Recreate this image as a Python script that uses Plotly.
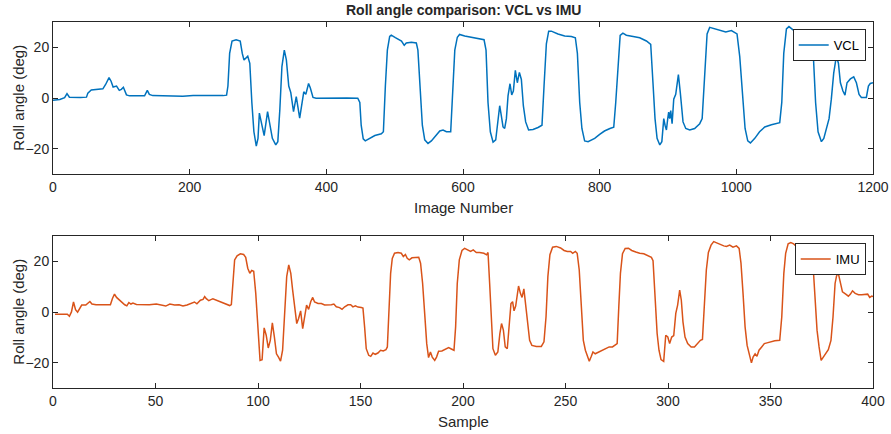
import plotly.graph_objects as go

# Roll angle estimated from the camera (VCL), indexed by image number
vcl_image = [0, 10, 17, 20.5, 24, 29, 40, 49, 51, 56, 63, 73, 77, 82, 85, 88, 93, 97, 100, 103,
             107.5, 112, 125, 134, 138, 141, 146, 160, 175, 190, 205, 220, 235, 249, 254, 256,
             258.5, 262, 268, 274, 277, 279.5, 285, 288, 291, 294, 297.5, 300, 302, 306, 309,
             314, 317, 321, 326, 329, 332, 335, 338.5, 341.5, 345, 348, 352, 356, 361, 364, 367,
             370, 374, 376.5, 380.5, 385, 400, 415, 430, 446,
             449, 451, 454, 457, 463, 471, 480.5, 483.5, 486.4, 489.3, 492.7, 495, 501, 510, 514,
             517, 524.4, 531.7, 534, 537.6, 540.5, 544, 548.8, 553.7, 558.6, 566, 570.8, 575.7,
             582, 585, 588, 591.7, 595, 602.5, 617, 630.8, 633.7, 636.6, 640, 644, 647.9, 650.3,
             653.7, 656, 658.6, 661, 663.5, 665.9, 668.8, 671.3, 673.7, 676.6, 679.5, 682.5,
             685.4, 688.3, 691.7, 696, 702.5, 709.8, 715.6, 718.6, 722, 725.4, 729.3, 739, 748.8,
             758.6, 764.4, 767.4, 770.8, 774, 778, 783, 792.7, 800, 807, 815, 820.6, 823.5, 827,
             830, 834, 839, 849, 858.6, 868.4, 874.7, 878, 881, 884, 888, 891, 893.8, 895.7,
             897.7, 899.6, 901, 902.5, 904, 906, 908.4, 911.3, 915.2, 918, 922, 926, 931.8, 939,
             946.4, 950, 953.8, 957.2, 961, 968.4, 975.7, 984.5, 992.8, 1001, 1005, 1009, 1012.8,
             1016.7, 1020.6, 1027, 1034, 1041.6, 1051.3, 1063.5, 1066.5, 1069.4, 1073.3, 1077,
             1083, 1092.8, 1102.5, 1107.4, 1110.8, 1113, 1116, 1119.6, 1124.5, 1128, 1131.8,
             1135.7, 1139, 1142.5, 1146.4, 1149.4, 1152.3, 1156, 1159, 1162, 1166.9, 1171.8,
             1175.7, 1179.6, 1183, 1190.3, 1193.3, 1196, 1200]
vcl_roll = [-0.8, -0.5, 0.2, 1.8, 0.4, 0.3, 0.3, 0.4, 2.0, 3.2, 3.5, 3.7, 5.4, 8.1, 6.7, 4.4, 4.8,
            3.1, 3.5, 4.3, 1.3, 0.9, 0.9, 0.9, 3.1, 1.5, 1.0, 0.9, 1.0, 0.8, 1.0, 0.9, 1.0, 1.0,
            1.2, 4.8, 17.7, 22.6, 23.1, 22.6, 17.7, 15.1, 16.6, 13.8, -1.7, -13.3, -19.0, -15.9,
            -5.9, -11.4, -14.8, -5.3, -9.4, -15.9, -18.5, -17.2, -4.3, 12.5, 19.0, 15.1, 4.8, 2.2,
            -5.3, 0.6, -7.9, -2.3, 2.5, 1.5, 5.8, 4.1, 0.3, 0.0, 0.1, 0.0, 0.1, 0.0,
            -1.7, -10.7, -16.1, -16.9, -15.9, -14.8, -14.1, -13.3, 4.8, 19.0, 24.4, 24.9, 23.9,
            22.6, 20.9, 21.8, 22.1, 21.8, 19.0, 4.8, -10.7, -16.5, -17.9, -16.9, -15.2, -13.0,
            -12.6, -13.3, -13.3, 2.2, 19.0, 24.1, 25.2, 24.6, 23.9, 23.1, 19.0, -1.7, -13.3,
            -17.4, -16.5, -10.7, -3.0, -6.8, -11.4, -12.0, -8.1, 0.9, 5.7, 1.3, 2.8, 11.0, 6.1,
            10.2, 7.4, -3.0, -9.4, -12.6, -12.4, -11.6, -10.7, 4.8, 21.5, 26.5, 26.5, 25.4, 24.6,
            24.4, 23.9, 17.7, -1.7, -12.0, -16.9, -17.2, -15.9, -14.3, -13.0, -12.0, -11.5, -1.7,
            15.1, 24.8, 25.7, 24.9, 24.4, 23.9, 22.6, 21.3, 6.1, -8.1, -15.9, -18.5, -17.2, -8.1,
            -10.7, -12.6, -8.1, -5.5, -8.1, -4.9, -10.1, -0.4, 1.5, 9.3, 2.2, -9.4, -12.0, -12.6,
            -12.0, -10.1, -8.1, 11.2, 25.4, 28.0, 27.5, 27.0, 26.2, 26.7, 25.4, 16.4, 0.9, -12.0,
            -16.9, -17.7, -15.9, -13.3, -11.4, -10.5, -9.7, -1.7, 17.7, 27.4, 28.3, 27.0, 25.4,
            24.4, 23.5, 23.9, 15.1, -1.7, -13.3, -17.2, -15.9, -12.0, -8.1, -0.4, 9.9, 16.6, 13.8,
            6.1, 2.8, 1.2, 6.1, 7.6, 8.4, 6.1, 1.5, 0.3, 0.3, 4.8, 5.8, 6.1]

# Roll angle from the inertial unit (IMU), indexed by sample
imu_sample = [1, 7, 8, 9, 10, 11, 12, 13, 14, 16, 18, 19, 21, 24, 28, 29, 30, 31, 32.5, 34, 35,
              36, 37, 38, 39, 40.7, 44, 47, 50.4, 52.8, 55, 57, 59.3, 61.5, 63.4, 65.4, 67.5, 69,
              70.2, 71.9, 73.2, 74, 74.8, 76, 78, 79.7, 81.6, 83.7, 86.2, 87, 87.8, 88.6, 89.8,
              91.4, 93, 94, 95, 96, 96.9, 97.9, 98.9, 100, 101, 102, 103, 104, 105, 106, 107, 108,
              109, 110, 111, 112, 113, 114, 115, 116, 116.9, 117.9, 118.9, 119.8, 120.8, 121.8,
              122.8, 123.7, 124.7, 125.7, 126.7, 127.6, 129.3, 130.9, 132.5, 134.1, 135.8, 137,
              138.2, 139.8, 141, 142.3, 143.9, 145.2, 146.3, 147.5, 148.8, 150.4, 151.2, 152,
              152.8, 154, 155, 156.1, 157.2, 158.5, 159.8, 161.1, 162.4, 163.1, 163.9, 164.7,
              165.5, 166.6, 168.3, 169.9, 170.9, 171.9, 172.8, 173.8, 175.1, 176.7, 178.4, 179.3,
              180.3, 181.3, 182.3, 183.2, 184.1, 185, 186.2, 187.1, 188.1, 189.7, 191.4, 193,
              194.3, 195.6, 196.4, 197.2, 198.2, 199.5, 200.8, 202.4, 203.7, 205, 206.5, 208.1,
              210.2, 211.5, 212.2, 213, 213.8, 214.6, 215.8, 217, 218, 218.8, 219.7, 220.6, 221.6,
              222.6, 223.4, 224.2, 224.9, 225.7, 226.5, 227.1, 228, 228.8, 229.7, 230.5, 231.4,
              232.5, 233.6, 235.8, 238.2, 239.5, 240.5, 241.4, 242.4, 243.7, 245.5, 247.6, 249.3,
              250.9, 252.5, 253.5, 254.8, 255.7, 256.7, 257.7, 258.7, 259.7, 260.6, 261.6, 262.6,
              263.4, 264.5, 266.2, 268.3, 270, 271.3, 272.9, 274, 275.2, 276, 276.8, 277.8, 279.1,
              280.7, 282.3, 284.3, 286.2, 288.2, 290.3, 291.9, 292.7, 293.7, 294.7, 295.6, 296.6,
              297.9, 298.9, 299.9, 300.8, 301.8, 302.8, 303.8, 304.7, 305.7, 306.5, 307.3, 308.3,
              309.6, 311.3, 312.9, 314.5, 315.8, 316.8, 317.8, 318.7, 319.7, 321, 322.3, 324,
              325.6, 327.2, 328.5, 330.1, 331.7, 333.4, 334.7, 335.6, 336.6, 337.6, 338.6, 339.5,
              340.7, 341.5, 342.5, 343.4, 344.4, 345.7, 347, 348.3, 350, 352.1, 354.5, 355.5,
              356.5, 357.4, 358.6, 359.9, 361.3, 362.6, 363.8, 364.7, 365.9, 367.2, 368.2, 369.1,
              370.1, 370.8, 371.7, 372.7, 373.7, 374.7, 375.6, 376.9, 378.2, 379.5, 380.5, 381.5,
              382.2, 383, 383.8, 385.1, 386.7, 388, 389, 390, 391.3, 392.9, 394.5, 396.1, 397.4,
              398.4, 399.4, 400]
imu_roll = [-0.8, -0.8, -1.6, 0.1, 4.0, 1.0, 0.0, 1.5, 2.8, 2.8, 4.2, 3.2, 2.9, 2.9, 2.9, 5.4,
            7.1, 5.8, 4.7, 3.4, 2.9, 2.5, 3.8, 3.2, 3.6, 3.0, 2.8, 2.9, 3.2, 2.9, 2.4, 3.2, 2.8,
            2.9, 2.4, 2.8, 3.6, 4.0, 3.3, 4.7, 5.0, 6.1, 5.3, 4.5, 5.3, 4.7, 4.0, 3.2, 2.6, 3.0,
            11.3, 20.6, 22.2, 23.0, 22.7, 21.6, 17.3, 15.3, 16.4, 16.1, 7.4, -5.8, -19.0, -18.7,
            -6.2, -9.1, -14.1, -11.1, -4.2, -9.8, -16.4, -17.7, -19.3, -15.0, 0.8, 14.0, 18.6,
            15.3, 8.7, 2.1, -4.5, -2.5, 0.5, -6.5, -0.5, 2.8, 1.1, 4.1, 5.8, 4.0, 3.4, 3.4, 2.8,
            2.8, 2.9, 3.2, 2.1, 1.8, 1.1, 2.1, 2.9, 2.9, 2.1, 2.5, 2.0, 1.8, 1.6, -5.8, -14.4,
            -17.0, -17.4, -16.1, -16.6, -16.1, -15.0, -15.3, -14.8, -13.7, 2.1, 15.3, 21.2, 23.2,
            23.5, 23.2, 21.9, 22.7, 21.2, 20.6, 21.4, 21.6, 21.6, 19.3, 11.3, -0.5, -12.4, -17.9,
            -15.7, -17.7, -19.0, -17.7, -15.4, -15.3, -14.5, -14.0, -14.5, -15.0, -5.8, 11.3,
            20.6, 24.3, 25.1, 24.5, 23.9, 24.5, 23.5, 23.5, 23.2, 22.6, 23.5, 11.3, -3.2, -14.4,
            -17.0, -15.7, -8.4, -4.5, -7.1, -13.7, -14.4, -5.8, 3.4, 4.1, 0.5, 2.4, 7.4, 10.3,
            7.4, 5.8, 9.2, 3.4, -4.5, -11.1, -13.1, -13.5, -13.5, -11.7, -1.8, 14.0, 22.6, 25.6,
            25.9, 25.3, 24.3, 23.9, 23.9, 23.2, 23.9, 23.2, 16.6, 0.8, -11.1, -15.0, -17.4, -19.3,
            -17.4, -15.7, -16.4, -15.7, -15.0, -14.4, -13.7, -13.7, -13.1, -12.4, 2.1, 15.3, 23.0,
            25.1, 25.2, 24.3, 23.7, 23.2, 23.0, 22.2, 21.6, 20.3, 7.4, -8.4, -15.0, -18.7, -19.4,
            -9.1, -9.8, -12.4, -9.8, -9.2, -0.5, 2.8, 8.7, 4.7, -3.8, -9.8, -12.4, -13.7, -13.7,
            -12.4, -11.1, -10.8, 2.1, 16.6, 23.5, 26.4, 27.8, 27.2, 26.6, 26.1, 25.9, 26.4, 25.6,
            26.1, 25.1, 19.3, 7.4, -5.8, -13.1, -16.4, -20.0, -17.7, -16.4, -17.4, -15.0, -13.7,
            -12.4, -12.1, -11.7, -11.3, -11.1, -1.8, 15.3, 23.2, 26.9, 27.4, 26.9, 26.1, 25.1,
            25.6, 24.3, 24.3, 23.0, 23.9, 21.9, 17.9, 4.7, -7.1, -13.7, -19.0, -17.9, -16.4,
            -14.8, -11.1, -1.8, 11.3, 14.2, 15.6, 12.7, 8.0, 7.1, 6.3, 7.1, 8.4, 7.4, 6.9, 6.9,
            6.9, 7.1, 5.8, 6.3, 6.1]

roll_ticks = [-20, 0, 20]
image_ticks = [0, 200, 400, 600, 800, 1000, 1200]
sample_ticks = [0, 50, 100, 150, 200, 250, 300, 350, 400]

W, H = 891, 434
FONT = "Liberation Sans, Arial, Helvetica, sans-serif"
AX = "#262626"

fig = go.Figure()
fig.add_trace(go.Scatter(x=vcl_image, y=vcl_roll, mode="lines", name="VCL",
                         line=dict(color="#0072BD", width=1.5), xaxis="x", yaxis="y",
                         legend="legend"))
fig.add_trace(go.Scatter(x=imu_sample, y=imu_roll, mode="lines", name="IMU",
                         line=dict(color="#D95319", width=1.5), xaxis="x2", yaxis="y2",
                         legend="legend2"))

L, R = 53.3, 873.3
PW = R - L
top_dom = [1 - 174 / H, 1 - 22.3 / H]
bot_dom = [1 - 388.3 / H, 1 - 236 / H]

axis_common = dict(showline=True, linecolor=AX, linewidth=1, mirror="ticks",
                   ticks="inside", ticklen=5, tickcolor=AX, tickwidth=1,
                   showgrid=False, zeroline=False,
                   tickfont=dict(family=FONT, size=14, color=AX), automargin=False)

legend_common = dict(xanchor="right", yanchor="top", bgcolor="white", bordercolor=AX,
                     borderwidth=1, font=dict(family=FONT, size=13, color="black"),
                     itemwidth=30, tracegroupgap=0)

fig.update_layout(
    width=W, height=H,
    margin=dict(l=L, r=W - R, t=0, b=0),
    paper_bgcolor="white", plot_bgcolor="white",
    xaxis=dict(domain=[0, 1], range=[0, 1200], tickvals=image_ticks, anchor="y", **axis_common),
    yaxis=dict(domain=top_dom, range=[-30, 30], tickvals=roll_ticks, anchor="x", **axis_common),
    xaxis2=dict(domain=[0, 1], range=[0, 400], tickvals=sample_ticks, anchor="y2", **axis_common),
    yaxis2=dict(domain=bot_dom, range=[-30, 30], tickvals=roll_ticks, anchor="x2", **axis_common),
    legend=dict(x=(866 - L) / PW, y=1 - 29 / H, **legend_common),
    legend2=dict(x=(866 - L) / PW, y=1 - 243 / H, **legend_common),
    showlegend=True,
)

# annotation paper x is measured across the plotting area (between the margins)
def px_x(p):
    return (p - L) / PW

texts = [
    dict(text="<b>Roll angle comparison: VCL vs IMU</b>", x=0.5, y=1 - 10 / H, size=14, angle=0),
    dict(text="Image Number", x=0.5, y=1 - 208 / H, size=15, angle=0),
    dict(text="Sample", x=0.5, y=1 - 421 / H, size=15, angle=0),
    dict(text="Roll angle (deg)", x=px_x(18), y=1 - 98 / H, size=15, angle=-90),
    dict(text="Roll angle (deg)", x=px_x(18), y=1 - 312 / H, size=15, angle=-90),
]
for t in texts:
    fig.add_annotation(text=t["text"], x=t["x"], y=t["y"], xref="paper", yref="paper",
                       xanchor="center", yanchor="middle", showarrow=False,
                       textangle=t["angle"], font=dict(family=FONT, size=t["size"], color=AX))

fig.write_html("out.html")
